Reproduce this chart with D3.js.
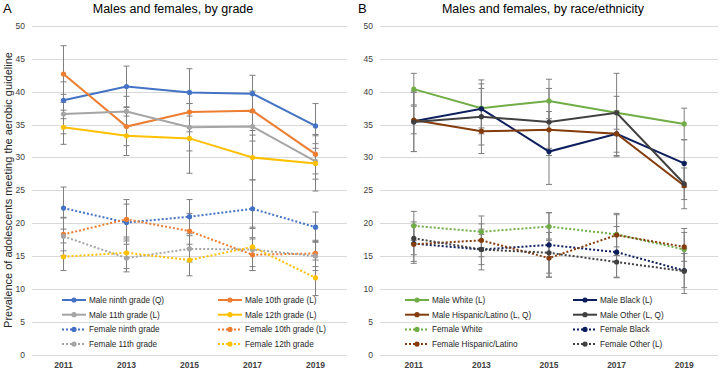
<!DOCTYPE html>
<html>
<head>
  <meta charset="UTF-8">
  <style>
    body { margin: 0; background: #fff; }
    svg { display: block; font-family: "Liberation Sans", Arial, sans-serif; }
    .grid line { stroke: #d9d9d9; stroke-width: 1px; }
    .tick-label { font-size: 8.5px; fill: #404040; }
    .err { stroke: #7f7f7f; stroke-width: 1px; }
    .legend text { font-size: 8.2px; fill: #262626; }
  </style>
</head>
<body>
<div id="chart"></div>
<script src="https://cdn.jsdelivr.net/npm/d3@7"></script>
<script>
// years on the x axis
const years = ["2011", "2013", "2015", "2017", "2019"];
const yTicks = [0, 5, 10, 15, 20, 25, 30, 35, 40, 45, 50];

// panel A: by grade
const gradeNames = [
  "Male ninth grade (Q)", "Male 10th grade (L)", "Male 11th grade (L)", "Male 12th grade (L)",
  "Female ninth grade", "Female 10th grade (L)", "Female 11th grade", "Female 12th grade"
];
const gradeValues = [
  [38.7, 40.8, 39.9, 39.7, 34.8],
  [42.7, 34.7, 36.9, 37.1, 30.5],
  [36.6, 37.0, 34.6, 34.7, 29.4],
  [34.6, 33.3, 32.9, 30.0, 29.1],
  [22.3, 20.1, 21.0, 22.2, 19.4],
  [18.3, 20.6, 18.8, 15.2, 15.4],
  [18.0, 14.7, 16.1, 16.0, 15.0],
  [14.9, 15.5, 14.4, 16.4, 11.7]
];
// half width of the 95% CI
const gradeErrors = [
  [2.8, 3.1, 3.6, 2.8, 3.4],
  [4.3, 2.9, 3.0, 3.0, 3.0],
  [3.0, 2.3, 3.6, 2.2, 2.7],
  [2.6, 3.0, 5.3, 3.4, 4.2],
  [3.2, 2.8, 2.6, 4.4, 2.3],
  [2.5, 3.0, 2.7, 2.4, 2.0],
  [2.9, 2.1, 2.0, 3.2, 2.2],
  [2.1, 2.4, 2.4, 3.0, 2.7]
];

// panel B: by race/ethnicity
const raceNames = [
  "Male White (L)", "Male Black (L)", "Male Hispanic/Latino (L, Q)", "Male Other (L, Q)",
  "Female White", "Female Black", "Female Hispanic/Latino", "Female Other (L)"
];
const raceValues = [
  [40.4, 37.5, 38.6, 36.8, 35.1],
  [35.5, 37.4, 30.9, 33.6, 29.1],
  [35.7, 34.0, 34.2, 33.6, 25.7],
  [35.4, 36.2, 35.4, 36.8, 26.0],
  [19.6, 18.7, 19.5, 18.3, 16.0],
  [16.9, 16.0, 16.7, 15.6, 12.8],
  [16.8, 17.4, 14.7, 18.2, 16.4],
  [17.7, 16.0, 15.5, 14.1, 12.7]
];
const raceErrors = [
  [2.4, 3.0, 3.3, 2.5, 2.4],
  [4.6, 3.8, 5.0, 3.3, 3.6],
  [2.1, 2.1, 2.8, 3.5, 3.5],
  [4.5, 5.6, 5.1, 6.0, 2.4],
  [2.2, 2.4, 2.1, 3.2, 3.2],
  [2.7, 3.1, 4.9, 3.9, 2.6],
  [2.9, 2.5, 2.9, 3.1, 2.2],
  [2.5, 2.3, 3.1, 2.3, 3.4]
];

const gradeColors = ["#4472c4", "#ed7d31", "#a5a5a5", "#ffc000"];
const raceColors = ["#70ad47", "#0e1f5e", "#843c0c", "#404040"];

const W = 721, H = 371;
const svg = d3.select("#chart").append("svg")
  .attr("width", W).attr("height", H);

// y title shared by both panels
svg.append("text")
  .attr("transform", "translate(12,190) rotate(-90)")
  .attr("text-anchor", "middle")
  .style("font-size", "11px")
  .style("fill", "#262626")
  .text("Prevalence of adolescents meeting the aerobic guideline");

function drawPanel(opt) {
  const x = d3.scalePoint().domain(years).range([opt.x0, opt.x1]).padding(0.5);
  const y = d3.scaleLinear().domain([0, 50]).range([354.7, 26]);

  // letter + title
  svg.append("text").attr("x", opt.letterX).attr("y", 13)
    .style("font-size", "13px").style("fill", "#000").text(opt.letter);
  svg.append("text").attr("x", opt.titleX).attr("y", 13)
    .attr("text-anchor", "middle")
    .style("font-size", "12.5px").style("fill", "#000").text(opt.title);

  // gridlines
  svg.append("g").attr("class", "grid")
    .selectAll("line").data(yTicks).join("line")
    .attr("x1", opt.x0).attr("x2", opt.x1)
    .attr("y1", d => Math.round(y(d)) + 0.5).attr("y2", d => Math.round(y(d)) + 0.5);

  svg.append("g").selectAll("text").data(yTicks).join("text")
    .attr("class", "tick-label")
    .attr("x", opt.x0 - 7).attr("y", d => y(d) + 3)
    .attr("text-anchor", "end")
    .text(d => d);

  svg.append("g").selectAll("text").data(years).join("text")
    .attr("class", "tick-label")
    .attr("x", d => x(d)).attr("y", 368)
    .attr("text-anchor", "middle")
    .style("font-weight", "bold")
    .text(d => d);

  const series = opt.names.map((name, i) => ({
    name: name,
    color: opt.colors[i % 4],
    dotted: i >= 4,
    pts: years.map((yr, j) => ({ yr: yr, v: opt.values[i][j], e: opt.errors[i][j] }))
  }));

  // error bars
  const eg = svg.append("g");
  series.forEach(s => {
    s.pts.forEach(p => {
      const cx = x(p.yr);
      eg.append("line").attr("class", "err")
        .attr("x1", cx).attr("x2", cx).attr("y1", y(p.v - p.e)).attr("y2", y(p.v + p.e));
      [p.v - p.e, p.v + p.e].forEach(v => {
        eg.append("line").attr("class", "err")
          .attr("x1", cx - 3).attr("x2", cx + 3).attr("y1", y(v)).attr("y2", y(v));
      });
    });
  });

  const line = d3.line().x(d => x(d.yr)).y(d => y(d.v));

  // dotted series first, solid ones on top
  series.slice(4).concat(series.slice(0, 4)).forEach(s => {
    const g = svg.append("g");
    g.append("path").datum(s.pts)
      .attr("d", line).attr("fill", "none")
      .attr("stroke", s.color).attr("stroke-width", 2)
      .attr("stroke-dasharray", s.dotted ? "2,2" : null);
    g.selectAll("circle").data(s.pts).join("circle")
      .attr("cx", d => x(d.yr)).attr("cy", d => y(d.v))
      .attr("r", 2.6).attr("fill", s.color);
  });

  // legend, 2 columns x 4 rows
  const leg = svg.append("g").attr("class", "legend");
  series.forEach((s, i) => {
    const col = i % 2, row = Math.floor(i / 2);
    const lx = opt.x0 + opt.legendCols[col];
    const ly = 300 + row * 14.7;
    leg.append("line")
      .attr("x1", lx).attr("x2", lx + 24).attr("y1", ly).attr("y2", ly)
      .attr("stroke", s.color).attr("stroke-width", 2)
      .attr("stroke-dasharray", s.dotted ? "2,2" : null);
    leg.append("circle").attr("cx", lx + 12).attr("cy", ly).attr("r", 2.6).attr("fill", s.color);
    leg.append("text").attr("x", lx + 27).attr("y", ly + 3).text(s.name);
  });
}

drawPanel({
  letter: "A", letterX: 3, title: "Males and females, by grade", titleX: 173,
  x0: 32, x1: 347, names: gradeNames, values: gradeValues, errors: gradeErrors,
  colors: gradeColors, legendCols: [30, 186]
});

drawPanel({
  letter: "B", letterX: 358, title: "Males and females, by race/ethnicity", titleX: 543,
  x0: 380, x1: 718, names: raceNames, values: raceValues, errors: raceErrors,
  colors: raceColors, legendCols: [25, 193]
});
</script>
</body>
</html>
